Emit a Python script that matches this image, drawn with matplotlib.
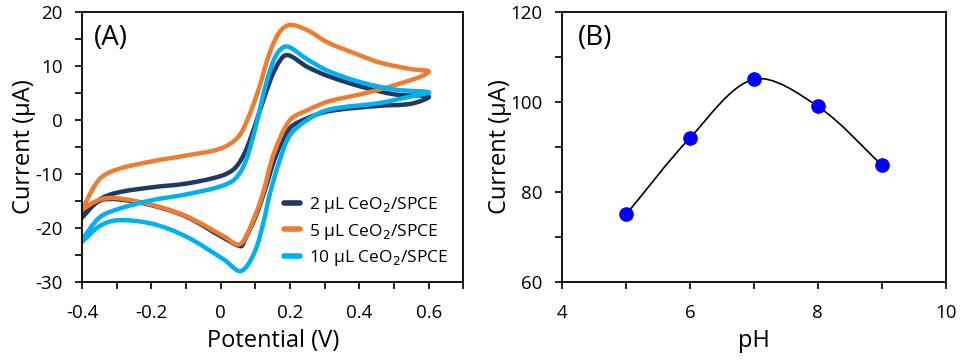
import numpy as np
import matplotlib.pyplot as plt
from matplotlib.path import Path
from matplotlib.patches import PathPatch
from matplotlib.lines import Line2D
from matplotlib.ticker import MultipleLocator

plt.rcParams['font.family'] = ['Open Sans', 'DejaVu Sans']
plt.rcParams['axes.unicode_minus'] = False

# === Data: panel A, cyclic voltammograms (forward scan then reverse scan) ===
e_2 = [-0.4, -0.35, -0.3, -0.2, -0.1, 0.0, 0.04, 0.07, 0.1, 0.13, 0.16, 0.19, 0.25, 0.31, 0.408, 0.504, 0.6,
       0.55, 0.456, 0.31, 0.25, 0.2, 0.16, 0.125, 0.1, 0.068, 0.058, 0.01, -0.1, -0.2, -0.3, -0.35, -0.4]
i_2 = [-18.1, -14.8, -13.5, -12.5, -11.8, -10.4, -9.0, -6.0, -0.8, 5.0, 9.8, 12.0, 9.8, 8.1, 6.1, 4.7, 4.3,
       3.0, 2.6, 1.6, 0.3, -1.5, -6.5, -13.5, -18.0, -22.4, -23.4, -21.9, -17.9, -15.8, -14.7, -15.0, -17.8]

e_5 = [-0.4, -0.35, -0.3, -0.2, -0.1, 0.0, 0.05, 0.08, 0.11, 0.14, 0.17, 0.2, 0.25, 0.31, 0.4, 0.46, 0.55, 0.6,
       0.58, 0.5, 0.456, 0.4, 0.31, 0.25, 0.2, 0.154, 0.125, 0.106, 0.068, 0.049, 0.01, -0.1, -0.2, -0.3, -0.35, -0.4]
i_5 = [-16.6, -11.0, -9.2, -7.7, -6.6, -5.3, -3.2, 0.5, 5.8, 12.2, 16.3, 17.6, 16.6, 14.3, 12.0, 10.6, 9.4, 9.0,
       8.1, 6.4, 5.6, 4.7, 3.4, 1.8, 0.0, -6.1, -12.9, -16.6, -22.2, -23.1, -21.6, -17.8, -15.7, -14.5, -14.8, -16.6]

e_10 = [-0.4, -0.35, -0.3, -0.2, -0.1, 0.0, 0.04, 0.07, 0.1, 0.13, 0.16, 0.19, 0.25, 0.312, 0.408, 0.504, 0.6,
        0.552, 0.456, 0.312, 0.25, 0.2, 0.17, 0.14, 0.125, 0.097, 0.058, 0.01, -0.1, -0.2, -0.3, -0.35, -0.4]
i_10 = [-22.2, -18.1, -16.6, -14.9, -13.8, -12.3, -11.0, -8.0, -1.5, 6.5, 12.0, 13.6, 11.2, 9.0, 6.9, 5.6, 5.1,
        4.4, 3.1, 1.9, 0.0, -2.8, -7.5, -14.1, -18.5, -24.6, -28.0, -25.9, -21.6, -19.2, -18.6, -19.7, -22.6]

labels_a = ['2 µL CeO$_2$/SPCE', '5 µL CeO$_2$/SPCE', '10 µL CeO$_2$/SPCE']
colors_a = ['#1f3864', '#ed7d31', '#00b0f0']

# === Data: panel B ===
ph = [5, 6, 7, 8, 9]
current_b = [75, 92, 105, 99, 86]


def smooth_path(xs, ys, sx=1.0, sy=1.0):
    # smoothed line: cubic Bezier segments through the points (chord-length Catmull-Rom)
    p = np.column_stack([xs, ys]).astype(float)
    n = len(p)
    d = np.hypot(np.diff(p[:, 0]) * sx, np.diff(p[:, 1]) * sy)
    t = np.concatenate([[0], np.cumsum(d)])
    m = np.zeros_like(p)
    m[0] = (p[1] - p[0]) / (t[1] - t[0])
    m[-1] = (p[-1] - p[-2]) / (t[-1] - t[-2])
    for k in range(1, n - 1):
        m[k] = (p[k + 1] - p[k - 1]) / (t[k + 1] - t[k - 1])
    verts = [p[0]]
    codes = [Path.MOVETO]
    for k in range(n - 1):
        h = t[k + 1] - t[k]
        verts += [p[k] + m[k] * h / 3, p[k + 1] - m[k + 1] * h / 3, p[k + 1]]
        codes += [Path.CURVE4] * 3
    return Path(verts, codes)


def style_axes(ax):
    for s in ax.spines.values():
        s.set_linewidth(1.3)
    ax.tick_params(which='both', direction='out', top=False, right=False,
                   labelsize=13.5, width=1.2, length=5)
    ax.tick_params(axis='x', which='major', pad=11)
    ax.tick_params(axis='y', which='major', pad=9)


fig = plt.figure(figsize=(9.61, 3.6), dpi=100)
ax1 = fig.add_axes([0.0853, 0.217, 0.397, 0.75])
ax2 = fig.add_axes([0.585, 0.217, 0.399, 0.75])

# === Panel A ===
for xs, ys, col in zip([e_2, e_5, e_10], [i_2, i_5, i_10], colors_a):
    ax1.add_patch(PathPatch(smooth_path(xs, ys, 383 / 1.1, 270 / 50), facecolor='none',
                            edgecolor=col, lw=3.2, capstyle='round', joinstyle='round'))

ax1.set_xlim(-0.4, 0.7)
ax1.set_ylim(-30, 20)
ax1.xaxis.set_major_locator(MultipleLocator(0.2))
ax1.xaxis.set_minor_locator(MultipleLocator(0.1))
ax1.yaxis.set_major_locator(MultipleLocator(10))
ax1.yaxis.set_minor_locator(MultipleLocator(5))
ax1.xaxis.set_major_formatter(lambda v, pos: '0' if abs(v) < 1e-9 else f'{v:.1f}')
style_axes(ax1)
ax1.set_xlabel('Potential (V)', fontsize=17, labelpad=5)
ax1.set_ylabel('Current (µA)', fontsize=17, labelpad=-1)
ax1.text(0.03, 0.955, '(A)', transform=ax1.transAxes, fontsize=20, va='top')

handles = [Line2D([], [], color=c, lw=4, solid_capstyle='round') for c in colors_a]
ax1.legend(handles, labels_a, loc='lower right', bbox_to_anchor=(1.0, -0.005),
           frameon=False, fontsize=12.5, handlelength=0.9, handletextpad=0.5,
           labelspacing=0.35)

# === Panel B ===
ax2.add_patch(PathPatch(smooth_path(ph, current_b, 384 / 6, 270 / 60), facecolor='none',
                        edgecolor='black', lw=1.2))
ax2.plot(ph, current_b, 'o', color='#0000ff', markersize=9.5, zorder=3)
ax2.set_xlim(4, 10)
ax2.set_ylim(60, 120)
ax2.xaxis.set_major_locator(MultipleLocator(2))
ax2.xaxis.set_minor_locator(MultipleLocator(1))
ax2.yaxis.set_major_locator(MultipleLocator(20))
ax2.yaxis.set_minor_locator(MultipleLocator(10))
style_axes(ax2)
ax2.set_xlabel('pH', fontsize=17, labelpad=5)
ax2.set_ylabel('Current (µA)', fontsize=17, labelpad=-1)
ax2.text(0.04, 0.955, '(B)', transform=ax2.transAxes, fontsize=20, va='top')

fig.savefig('out.png', dpi=100)
